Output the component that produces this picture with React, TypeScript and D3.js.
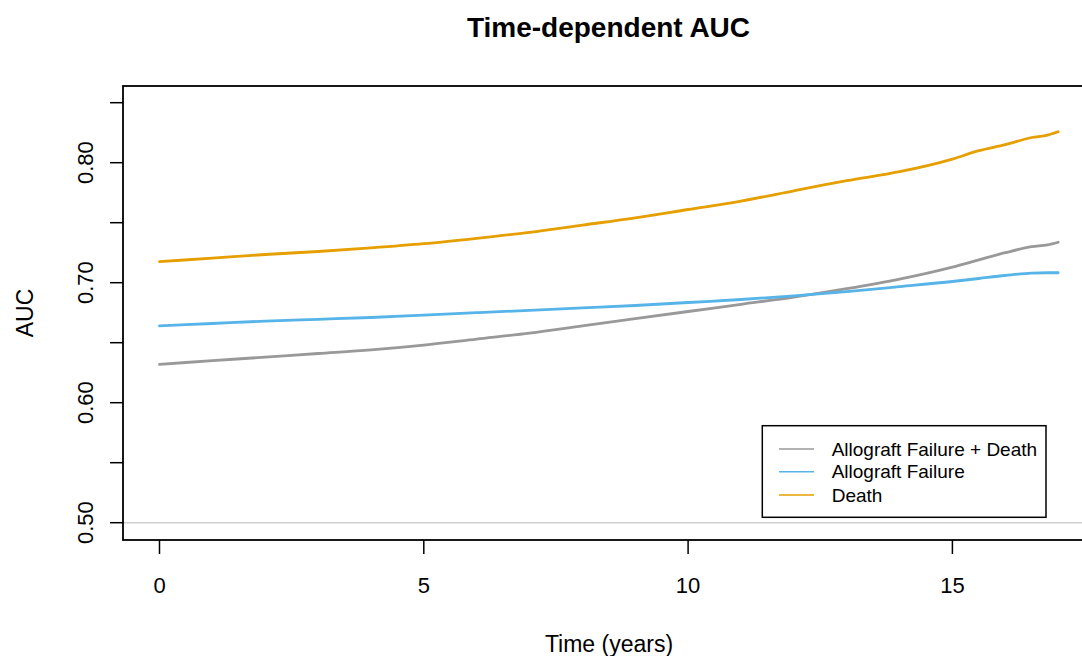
import React from "react";
import * as d3 from "d3";

const times = [0, 1, 2, 3, 4, 5, 6, 7, 8, 9, 10, 11, 12, 13, 14, 15, 15.5, 16, 16.5, 16.8, 17];
const aucBoth = [0.632, 0.635, 0.638, 0.641, 0.644, 0.648, 0.653, 0.658, 0.664, 0.670, 0.676, 0.682, 0.688, 0.695, 0.703, 0.713, 0.719, 0.725, 0.730, 0.7315, 0.7337];
const aucFailure = [0.664, 0.666, 0.668, 0.6695, 0.671, 0.673, 0.675, 0.677, 0.679, 0.681, 0.6835, 0.686, 0.689, 0.6925, 0.6967, 0.701, 0.7035, 0.706, 0.708, 0.7083, 0.7083];
const aucDeath = [0.7175, 0.7205, 0.7235, 0.726, 0.729, 0.7325, 0.737, 0.742, 0.748, 0.754, 0.761, 0.768, 0.7765, 0.785, 0.7925, 0.803, 0.810, 0.815, 0.821, 0.823, 0.8258];

const seriesNames = ["Allograft Failure + Death", "Allograft Failure", "Death"];
const seriesColors = ["#999999", "#56B4E9", "#E69F00"];
const xTicks = [0, 5, 10, 15];
const yTicks = [0.5, 0.55, 0.6, 0.65, 0.7, 0.75, 0.8, 0.85];
const yLabelTicks = [0.5, 0.6, 0.7, 0.8];

const FONT = "'Liberation Sans', Arial, sans-serif";

export default function App() {
  const W = 1082, H = 656;
  const left = 123, right = 1095, top = 86, bottom = 540;
  const x = d3.scaleLinear().domain([0, 5]).range([159.5, 423.8]);
  const y = d3.scaleLinear().domain([0.5, 0.6]).range([522.7, 402.7]);
  const allSeries = [aucBoth, aucFailure, aucDeath];
  const line = d3.line<[number, number]>().x((d) => x(d[0])).y((d) => y(d[1])).curve(d3.curveMonotoneX);

  const legX = 762.3, legY = 425.7, legW = 283.7, legH = 91.6;
  const rowYs = [449, 471.7, 495];

  return (
    <svg width={W} height={H} style={{ position: "absolute", left: 0, top: 0, background: "#fff" }} fontFamily={FONT}>
      <rect x={0} y={0} width={W} height={H} fill="#fff" />
      <text x={608.5} y={36.7} textAnchor="middle" fontSize={28} fontWeight="bold" fill="#000">Time-dependent AUC</text>

      {/* reference line */}
      <line x1={left} x2={right} y1={y(0.5)} y2={y(0.5)} stroke="#cfcfcf" strokeWidth={1.5} />

      {/* series */}
      {allSeries.map((vals, i) => (
        <path key={i} d={line(times.map((t, j) => [t, vals[j]]) as [number, number][]) || ""} fill="none" stroke={seriesColors[i]} strokeWidth={2.8} strokeLinejoin="round" strokeLinecap="round" />
      ))}

      {/* box */}
      <rect x={left} y={top} width={right - left} height={bottom - top} fill="none" stroke="#000" strokeWidth={1.8} />

      {/* y axis */}
      {yTicks.map((v) => (
        <line key={v} x1={110} x2={left} y1={y(v)} y2={y(v)} stroke="#000" strokeWidth={1.5} />
      ))}
      {yLabelTicks.map((v) => (
        <text key={v} transform={`translate(92.5,${y(v)}) rotate(-90)`} textAnchor="middle" fontSize={22} fill="#000">{v.toFixed(2)}</text>
      ))}
      <text transform={`translate(33,${(top + bottom) / 2}) rotate(-90)`} textAnchor="middle" fontSize={23} fill="#000">AUC</text>

      {/* x axis */}
      {xTicks.map((v) => (
        <g key={v}>
          <line x1={x(v)} x2={x(v)} y1={bottom} y2={554} stroke="#000" strokeWidth={1.5} />
          <text x={x(v)} y={593} textAnchor="middle" fontSize={22} fill="#000">{v}</text>
        </g>
      ))}
      <text x={(left + right) / 2} y={651.7} textAnchor="middle" fontSize={23} fill="#000">Time (years)</text>

      {/* legend */}
      <rect x={legX} y={legY} width={legW} height={legH} fill="#fff" stroke="#000" strokeWidth={1.5} />
      {seriesNames.map((name, i) => (
        <g key={name}>
          <line x1={779} x2={814} y1={rowYs[i]} y2={rowYs[i]} stroke={seriesColors[i]} strokeWidth={1.5} />
          <text x={831.7} y={rowYs[i] + 6.7} fontSize={19} fill="#000">{name}</text>
        </g>
      ))}
    </svg>
  );
}
